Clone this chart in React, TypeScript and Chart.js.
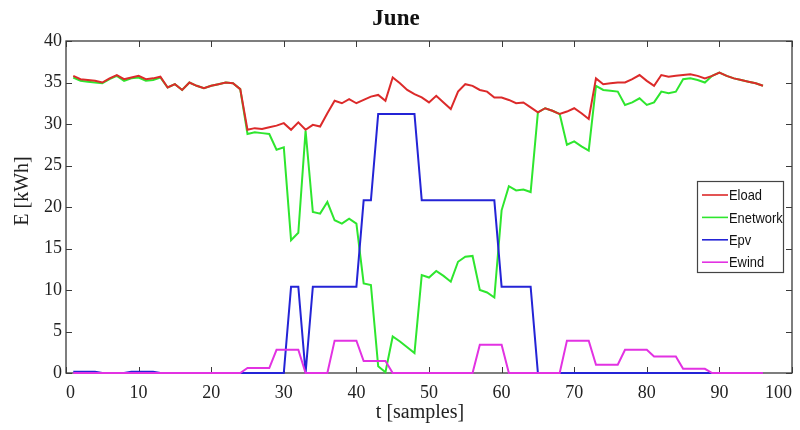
import React, { useEffect, useRef } from "react";
import { Chart, registerables } from "chart.js";

Chart.register(...registerables);

const chartTitle = "June";
const xTitle = "t [samples]";
const yTitle = "E [kWh]";
const seriesNames = ["Eload", "Enetwork", "Epv", "Ewind"];
const seriesColors = ["#dc2a2a", "#2ee62e", "#2424d6", "#e232e2"];
const xTickValues = [0, 10, 20, 30, 40, 50, 60, 70, 80, 90, 100];
const yTickValues = [0, 5, 10, 15, 20, 25, 30, 35, 40];

// sample index 1..96
const samples = Array.from({ length: 96 }, (_, i) => i + 1);

const eload = [
  35.8, 35.4, 35.3, 35.2, 35.0, 35.5, 35.9, 35.4, 35.6, 35.8,
  35.4, 35.5, 35.7, 34.4, 34.8, 34.1, 35.0, 34.6, 34.3, 34.6,
  34.8, 35.0, 34.9, 34.2, 29.3, 29.5, 29.4, 29.6, 29.8, 30.1,
  29.3, 30.2, 29.3, 29.9, 29.7, 31.3, 32.8, 32.5, 33.0, 32.5,
  32.9, 33.3, 33.5, 32.8, 35.6, 34.9, 34.1, 33.6, 33.2, 32.6,
  33.4, 32.6, 31.8, 33.9, 34.8, 34.6, 34.1, 33.9, 33.2, 33.2,
  32.9, 32.5, 32.6, 32.0, 31.4, 31.9, 31.6, 31.2, 31.5, 31.9,
  31.3, 30.6, 35.5, 34.8, 34.9, 35.0, 35.0, 35.4, 35.9, 35.2,
  34.6, 35.9, 35.7, 35.8, 35.9, 36.0, 35.8, 35.5, 35.8, 36.2,
  35.8, 35.5, 35.3, 35.1, 34.9, 34.6,
];

const enetwork = [
  35.6, 35.2, 35.1, 35.0, 34.9, 35.4, 35.8, 35.2, 35.5, 35.6,
  35.2, 35.3, 35.6, 34.4, 34.8, 34.1, 35.0, 34.6, 34.3, 34.6,
  34.8, 35.0, 34.9, 34.2, 28.8, 29.0, 28.9, 28.8, 26.9, 27.2,
  16.0, 16.9, 29.2, 19.4, 19.2, 20.6, 18.4, 18.0, 18.6, 18.0,
  10.8, 10.6, 0.8, 0.1, 4.4, 3.8, 3.1, 2.4, 11.8, 11.5,
  12.3, 11.7, 11.0, 13.4, 14.0, 14.1, 10.0, 9.7, 9.1, 19.6,
  22.5, 22.0, 22.1, 21.8, 31.4, 31.9, 31.6, 31.2, 27.5, 27.9,
  27.3, 26.8, 34.6, 34.1, 34.0, 33.9, 32.3, 32.6, 33.1, 32.3,
  32.6, 33.9, 33.7, 33.9, 35.4, 35.5, 35.3, 35.0, 35.8, 36.2,
  35.8, 35.5, 35.3, 35.1, 34.9, 34.6,
];

const epv = [
  0.15, 0.15, 0.15, 0.15, 0, 0, 0, 0, 0.15, 0.15,
  0.15, 0.15, 0, 0, 0, 0, 0, 0, 0, 0,
  0, 0, 0, 0, 0, 0, 0, 0, 0, 0,
  10.4, 10.4, 0, 10.4, 10.4, 10.4, 10.4, 10.4, 10.4, 10.4,
  20.8, 20.8, 31.2, 31.2, 31.2, 31.2, 31.2, 31.2, 20.8, 20.8,
  20.8, 20.8, 20.8, 20.8, 20.8, 20.8, 20.8, 20.8, 20.8, 10.4,
  10.4, 10.4, 10.4, 10.4, 0, 0, 0, 0, 0, 0,
  0, 0, 0, 0, 0, 0, 0, 0, 0, 0,
  0, 0, 0, 0, 0, 0, 0, 0, 0, 0,
  0, 0, 0, 0, 0, 0,
];

const ewind = [
  0, 0, 0, 0, 0, 0, 0, 0, 0, 0,
  0, 0, 0, 0, 0, 0, 0, 0, 0, 0,
  0, 0, 0, 0, 0.6, 0.6, 0.6, 0.6, 2.8, 2.8,
  2.8, 2.8, 0, 0, 0, 0, 3.9, 3.9, 3.9, 3.9,
  1.45, 1.45, 1.45, 1.45, 0, 0, 0, 0, 0, 0,
  0, 0, 0, 0, 0, 0, 3.4, 3.4, 3.4, 3.4,
  0, 0, 0, 0, 0, 0, 0, 0, 3.9, 3.9,
  3.9, 3.9, 1.0, 1.0, 1.0, 1.0, 2.8, 2.8, 2.8, 2.8,
  2.0, 2.0, 2.0, 2.0, 0.5, 0.5, 0.5, 0.5, 0, 0,
  0, 0, 0, 0, 0, 0,
];

const seriesValues = [eload, enetwork, epv, ewind];
// draw order (higher drawn first): Enetwork bottom, then Eload, Epv, Ewind on top
const seriesOrder = [3, 4, 2, 1];

const SERIF = '"Liberation Serif", "Times New Roman", serif';
const SANS = '"Liberation Sans", Arial, sans-serif';

const framePlugin = {
  id: "matlabFrame",
  beforeDatasetsDraw(chart: any) {
    const { ctx, chartArea: a, scales } = chart;
    ctx.save();
    ctx.strokeStyle = "#3a3a3a";
    ctx.lineWidth = 1.3;
    ctx.strokeRect(a.left, a.top, a.right - a.left, a.bottom - a.top);
    const L = 6;
    ctx.beginPath();
    xTickValues.forEach((v) => {
      const px = Math.round(scales.x.getPixelForValue(v)) + 0.5;
      ctx.moveTo(px, a.bottom);
      ctx.lineTo(px, a.bottom - L);
      ctx.moveTo(px, a.top);
      ctx.lineTo(px, a.top + L);
    });
    yTickValues.forEach((v) => {
      const py = Math.round(scales.y.getPixelForValue(v)) + 0.5;
      ctx.moveTo(a.left, py);
      ctx.lineTo(a.left + L, py);
      ctx.moveTo(a.right, py);
      ctx.lineTo(a.right - L, py);
    });
    ctx.lineWidth = 1;
    ctx.stroke();
    ctx.restore();
  },
  afterDraw(chart: any) {
    const { ctx, chartArea: a } = chart;
    ctx.save();
    // chart title
    ctx.fillStyle = "#111";
    ctx.font = `bold 23px ${SERIF}`;
    ctx.textAlign = "center";
    ctx.textBaseline = "middle";
    ctx.fillText(chartTitle, 396, 19);
    // axis titles
    ctx.font = `20px ${SERIF}`;
    ctx.fillStyle = "#222";
    ctx.fillText(xTitle, 420, 413);
    ctx.save();
    ctx.translate(23, 191);
    ctx.rotate(-Math.PI / 2);
    ctx.fillText(yTitle, 0, 0);
    ctx.restore();

    // legend
    const lx = a.right - 95;
    const ly = a.top + 140;
    const lw = 86;
    const lh = 91;
    ctx.fillStyle = "#ffffff";
    ctx.fillRect(lx, ly, lw, lh);
    ctx.strokeStyle = "#444";
    ctx.lineWidth = 1.2;
    ctx.strokeRect(lx + 0.5, ly + 0.5, lw, lh);
    chart.data.datasets.forEach((ds: any, i: number) => {
      const yy = ly + 14 + i * 22.4;
      ctx.strokeStyle = ds.borderColor;
      ctx.lineWidth = 1.6;
      ctx.beginPath();
      ctx.moveTo(lx + 5, yy);
      ctx.lineTo(lx + 31, yy);
      ctx.stroke();
      ctx.save();
      ctx.translate(lx + 32, yy + 1);
      ctx.scale(0.86, 1);
      ctx.fillStyle = "#111";
      ctx.font = `15px ${SANS}`;
      ctx.textAlign = "left";
      ctx.textBaseline = "middle";
      ctx.fillText(ds.label, 0, 0);
      ctx.restore();
    });
    ctx.restore();
  },
};

export default function App() {
  const canvasRef = useRef<HTMLCanvasElement | null>(null);

  useEffect(() => {
    const canvas = canvasRef.current;
    if (!canvas) return;
    const datasets = seriesNames.map((name, i) => ({
      label: name,
      data: samples.map((t, j) => ({ x: t, y: seriesValues[i][j] })),
      borderColor: seriesColors[i],
      backgroundColor: seriesColors[i],
      borderWidth: 2,
      pointRadius: 0,
      tension: 0,
      fill: false,
      clip: 6,
      order: seriesOrder[i],
    }));

    const chart = new Chart(canvas, {
      type: "line",
      data: { datasets },
      options: {
        animation: false,
        responsive: false,
        devicePixelRatio: 1,
        events: [],
        layout: { padding: { top: 41, right: 8, left: 0, bottom: 0 } },
        plugins: {
          legend: { display: false },
          title: { display: false },
          tooltip: { enabled: false },
        },
        scales: {
          x: {
            type: "linear",
            min: 0,
            max: 100,
            afterBuildTicks: (scale: any) => {
              scale.ticks = xTickValues.map((v) => ({ value: v }));
            },
            afterFit: (scale: any) => {
              scale.height = 57;
              scale.paddingLeft = 0;
              scale.paddingRight = 0;
            },
            grid: { display: false, drawTicks: false },
            border: { display: false },
            ticks: {
              autoSkip: false,
              maxRotation: 0,
              align: "inner",
              padding: 9,
              color: "#222",
              font: { family: SERIF, size: 18 },
            },
          },
          y: {
            type: "linear",
            min: 0,
            max: 40,
            afterBuildTicks: (scale: any) => {
              scale.ticks = yTickValues.map((v) => ({ value: v }));
            },
            afterFit: (scale: any) => {
              scale.width = 66;
              scale.paddingTop = 0;
              scale.paddingBottom = 0;
            },
            grid: { display: false, drawTicks: false },
            border: { display: false },
            ticks: {
              autoSkip: false,
              padding: 4,
              color: "#222",
              font: { family: SERIF, size: 18 },
            },
          },
        },
      },
      plugins: [framePlugin],
    } as any);

    return () => {
      chart.destroy();
    };
  }, []);

  return (
    <div style={{ position: "fixed", left: 0, top: 0, width: 800, height: 430, background: "#fff" }}>
      <canvas ref={canvasRef} width={800} height={430} style={{ display: "block" }} />
    </div>
  );
}
